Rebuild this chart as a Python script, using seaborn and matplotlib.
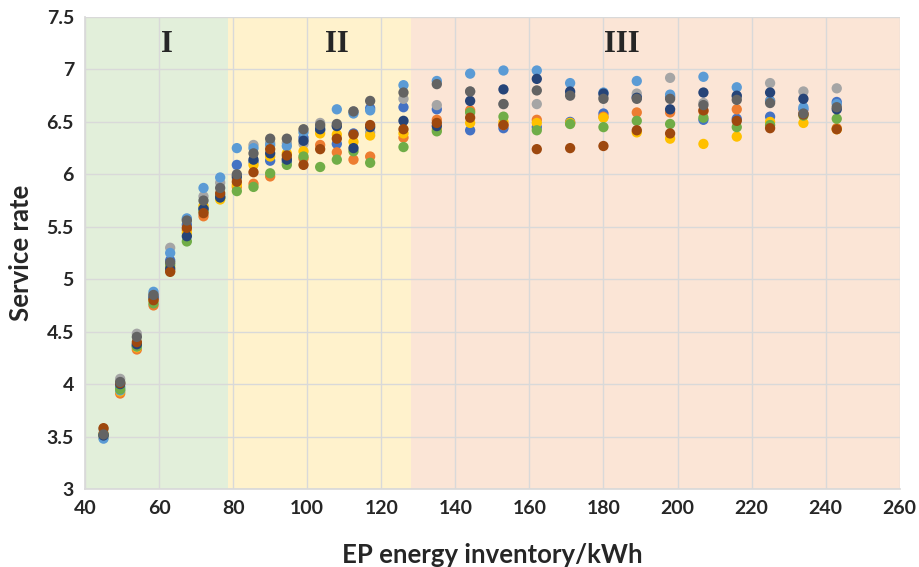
import numpy as np
import pandas as pd
import matplotlib
matplotlib.use("Agg")
import matplotlib.pyplot as plt
import seaborn as sns

# EP energy inventory (kWh) at which each scenario was evaluated
energy = [45, 49.5, 54, 58.5, 63, 67.5, 72, 76.5, 81, 85.5, 90, 94.5, 99, 103.5,
          108, 112.5, 117, 126, 135, 144, 153, 162, 171, 180, 189, 198, 207, 216,
          225, 234, 243]

# service rate per series
s_blue = [3.51, 3.97, 4.37, 4.84, 5.18, 5.52, 5.68, 5.80, 6.09, 6.12, 6.13, 6.12, 6.35, 6.42,
          6.29, 6.39, 6.63, 6.64, 6.62, 6.42, 6.44, 6.45, 6.50, 6.58, 6.74, 6.74, 6.52, 6.53,
          6.55, 6.62, 6.69]
s_orange = [3.53, 3.91, 4.33, 4.75, 5.08, 5.47, 5.60, 5.78, 5.88, 5.91, 5.98, 6.15, 6.15, 6.28,
            6.21, 6.14, 6.17, 6.35, 6.52, 6.61, 6.47, 6.52, 6.49, 6.55, 6.59, 6.59, 6.60, 6.62,
            6.70, 6.58, 6.44]
s_gray = [3.57, 4.05, 4.48, 4.86, 5.30, 5.57, 5.79, 5.92, 5.96, 6.28, 6.30, 6.30, 6.29, 6.49,
          6.46, 6.60, 6.40, 6.72, 6.66, 6.79, 6.67, 6.67, 6.77, 6.74, 6.77, 6.92, 6.68, 6.74,
          6.87, 6.79, 6.82]
s_yellow = [3.49, 3.93, 4.35, 4.80, 5.12, 5.44, 5.70, 5.76, 5.90, 6.09, 6.17, 6.20, 6.22, 6.39,
            6.38, 6.31, 6.37, 6.39, 6.43, 6.49, 6.50, 6.49, 6.49, 6.54, 6.40, 6.34, 6.29, 6.36,
            6.50, 6.49, 6.43]
s_lightblue = [3.48, 3.94, 4.36, 4.88, 5.25, 5.58, 5.87, 5.97, 6.25, 6.25, 6.28, 6.27, 6.40, 6.45,
               6.62, 6.58, 6.61, 6.85, 6.89, 6.96, 6.99, 6.99, 6.87, 6.78, 6.89, 6.76, 6.93, 6.83,
               6.70, 6.64, 6.67]
s_green = [3.52, 3.95, 4.36, 4.77, 5.14, 5.36, 5.65, 5.78, 5.84, 5.88, 6.01, 6.09, 6.17, 6.07,
           6.14, 6.22, 6.11, 6.26, 6.41, 6.59, 6.55, 6.42, 6.48, 6.45, 6.51, 6.48, 6.54, 6.45,
           6.47, 6.56, 6.53]
s_darkblue = [3.51, 4.00, 4.38, 4.82, 5.10, 5.41, 5.67, 5.78, 5.98, 6.14, 6.20, 6.14, 6.32, 6.43,
              6.46, 6.25, 6.45, 6.51, 6.46, 6.70, 6.81, 6.91, 6.79, 6.77, 6.73, 6.62, 6.78, 6.75,
              6.78, 6.72, 6.62]
s_brown = [3.58, 4.01, 4.40, 4.80, 5.07, 5.49, 5.63, 5.82, 5.93, 6.02, 6.24, 6.18, 6.09, 6.24,
           6.34, 6.38, 6.47, 6.43, 6.49, 6.54, 6.47, 6.24, 6.25, 6.27, 6.42, 6.39, 6.61, 6.51,
           6.44, 6.57, 6.43]
s_darkgray = [3.52, 4.02, 4.45, 4.85, 5.16, 5.56, 5.75, 5.87, 6.00, 6.20, 6.34, 6.34, 6.43, 6.47,
              6.48, 6.60, 6.70, 6.78, 6.86, 6.79, 6.67, 6.80, 6.75, 6.72, 6.72, 6.72, 6.66, 6.71,
              6.68, 6.58, 6.64]

series_names = ["s1", "s2", "s3", "s4", "s5", "s6", "s7", "s8", "s9"]
series_vals = [s_blue, s_orange, s_gray, s_yellow, s_lightblue, s_green,
               s_darkblue, s_brown, s_darkgray]
colors = ["#4472C4", "#ED7D31", "#A5A5A5", "#FFC000", "#5B9BD5", "#70AD47",
          "#264478", "#9E480E", "#636363"]

# region boundaries (kWh) and labels
region_edges = [40, 78.5, 128, 260]
region_colors = ["#E2EFDA", "#FFF2CC", "#FBE5D6"]
region_labels = ["I", "II", "III"]
region_label_x = [62, 108, 185]

df = pd.concat([pd.DataFrame({"energy": energy, "rate": v, "series": n})
                for n, v in zip(series_names, series_vals)], ignore_index=True)

sns.set_theme(style="white")
plt.rcParams['font.family'] = ['Lato', 'DejaVu Sans']

fig, ax = plt.subplots(figsize=(9.19, 5.67), dpi=100)
fig.subplots_adjust(left=0.0925, right=0.979, top=0.970, bottom=0.1376)

for i in range(3):
    ax.axvspan(region_edges[i], region_edges[i + 1], color=region_colors[i], zorder=0, lw=0)
    ax.text(region_label_x[i], 7.24, region_labels[i], family='Liberation Serif',
            fontweight='bold', fontsize=22, ha='center', va='center', zorder=5)

sns.scatterplot(data=df, x="energy", y="rate", hue="series", hue_order=series_names,
                palette=colors, s=55, linewidth=0, legend=False, ax=ax, zorder=3)

ax.set_xlim(40, 260)
ax.set_ylim(3, 7.5)
ax.set_xticks(np.arange(40, 261, 20))
ax.set_yticks(np.arange(3, 7.51, 0.5))
ax.set_yticklabels(["3", "3.5", "4", "4.5", "5", "5.5", "6", "6.5", "7", "7.5"])
ax.grid(True, color="#D9D9D9", linewidth=1, zorder=1)
ax.set_axisbelow(True)
for side in ["top", "right"]:
    ax.spines[side].set_visible(False)
for side in ["left", "bottom"]:
    ax.spines[side].set_color("#D9D9D9")
ax.tick_params(axis='both', length=0, labelsize=14, pad=8)
for lab in ax.get_xticklabels() + ax.get_yticklabels():
    lab.set_fontweight('bold')

ax.set_xlabel("EP energy inventory/kWh", fontsize=18.5, fontweight='bold', labelpad=19)
ax.set_ylabel("Service rate", fontsize=18.5, fontweight='bold', labelpad=10)

fig.savefig("out.png", dpi=100)
